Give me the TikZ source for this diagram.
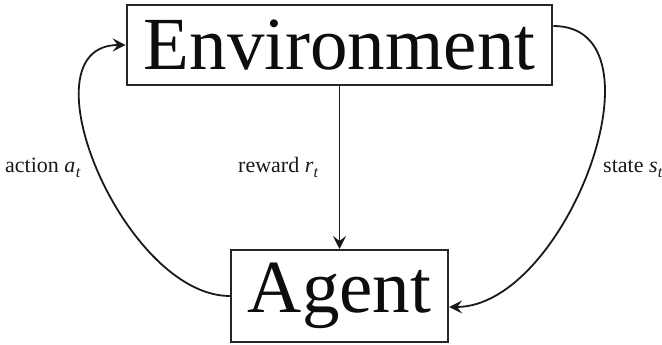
\documentclass[tikz,border=0pt]{standalone}
\usepackage{fontspec}
\setmainfont{Liberation Serif}
\usetikzlibrary{arrows.meta}
\newcommand\symsub[2]{\textit{#1}\kern0.3pt\raisebox{-0.45ex}{\fontsize{16pt}{16pt}\selectfont\textit{#2}}}
\begin{document}
\begin{tikzpicture}[x=1pt,y=1pt,
  bigbox/.style={draw=black!85, line width=2pt, font=\fontsize{75pt}{75pt}\selectfont, inner xsep=17pt, inner ysep=13pt, text=black!95},
  lbl/.style={font=\fontsize{22pt}{24pt}\selectfont, inner sep=0pt, anchor=base west, text=black!90},
  conn/.style={line width=1.8pt, draw=black!90, -{Stealth[length=13pt,width=13pt,inset=5pt]}}]
\useasboundingbox (0,0) rectangle (662,345);
\node[bigbox, minimum width=423pt, minimum height=80pt] (env) at (339.5,300) {Environment};
\node[bigbox, minimum width=214pt, minimum height=92pt] (agent) at (339.5,49) {Agent};
\draw[conn] (env.south) -- (agent.north);
\draw[conn] (agent.west) to[out=180,in=180] (env.west);
\draw[conn] ([yshift=19pt]env.east) to[out=0,in=0] ([yshift=-11pt]agent.east);
\node[lbl] (la) at (5,172) {action \symsub{a}{t}};
\node[lbl] (lr) at (238,172) {reward \symsub{r}{t}};
\node[lbl] (ls) at (603,172) {state \symsub{s}{t}};
\end{tikzpicture}
\end{document}
